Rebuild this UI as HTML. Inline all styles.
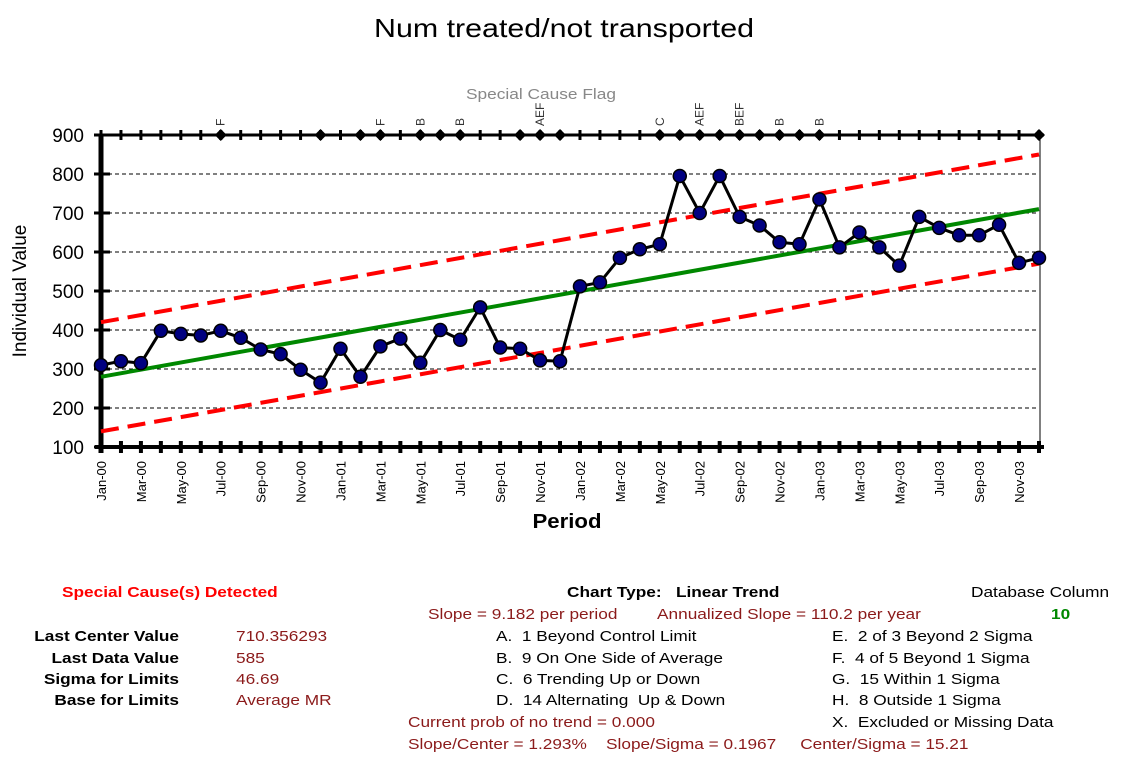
<!DOCTYPE html>
<html><head><meta charset="utf-8"><style>
body{margin:0;background:#fff;width:1132px;height:771px;overflow:hidden;font-family:"Liberation Sans",sans-serif}
.t{position:absolute;font-size:15px;white-space:nowrap;transform:scaleX(1.15);transform-origin:left top}
.rt{transform-origin:right top}
.r{color:#8b1a1a}
</style></head><body>
<svg id="chart" width="1132" height="560" style="position:absolute;left:0;top:0" font-family="Liberation Sans, sans-serif"></svg>
<div class="t" style="left:62px;top:584px;color:#f00;font-weight:bold">Special Cause(s) Detected</div>
<div class="t" style="left:567px;top:584px;font-weight:bold">Chart Type:&nbsp;&nbsp; Linear Trend</div>
<div class="t" style="left:971px;top:584px">Database Column</div>
<div class="t" style="left:1051px;top:606px;color:#080;font-weight:bold">10</div>
<div class="t r" style="left:428px;top:606px">Slope = 9.182 per period</div>
<div class="t r" style="left:657px;top:606px">Annualized Slope = 110.2 per year</div>
<div class="t rt" style="left:33px;top:628px;font-weight:bold;width:146px;text-align:right">Last Center Value</div>
<div class="t rt" style="left:33px;top:650px;font-weight:bold;width:146px;text-align:right">Last Data Value</div>
<div class="t rt" style="left:33px;top:671px;font-weight:bold;width:146px;text-align:right">Sigma for Limits</div>
<div class="t rt" style="left:33px;top:692px;font-weight:bold;width:146px;text-align:right">Base for Limits</div>
<div class="t r" style="left:236px;top:628px">710.356293</div>
<div class="t r" style="left:236px;top:650px">585</div>
<div class="t r" style="left:236px;top:671px">46.69</div>
<div class="t r" style="left:236px;top:692px">Average MR</div>
<div class="t" style="left:496px;top:628px">A.&nbsp; 1 Beyond Control Limit</div>
<div class="t" style="left:496px;top:650px">B.&nbsp; 9 On One Side of Average</div>
<div class="t" style="left:496px;top:671px">C.&nbsp; 6 Trending Up or Down</div>
<div class="t" style="left:496px;top:692px">D.&nbsp; 14 Alternating&nbsp; Up &amp; Down</div>
<div class="t" style="left:832px;top:628px">E.&nbsp; 2 of 3 Beyond 2 Sigma</div>
<div class="t" style="left:832px;top:650px">F.&nbsp; 4 of 5 Beyond 1 Sigma</div>
<div class="t" style="left:832px;top:671px">G.&nbsp; 15 Within 1 Sigma</div>
<div class="t" style="left:832px;top:692px">H.&nbsp; 8 Outside 1 Sigma</div>
<div class="t" style="left:832px;top:714px">X.&nbsp; Excluded or Missing Data</div>
<div class="t r" style="left:408px;top:714px">Current prob of no trend = 0.000</div>
<div class="t r" style="left:408px;top:736px">Slope/Center = 1.293%&nbsp;&nbsp;&nbsp; Slope/Sigma = 0.1967&nbsp;&nbsp;&nbsp;&nbsp; Center/Sigma = 15.21</div>
<script>
const months=["Jan","Feb","Mar","Apr","May","Jun","Jul","Aug","Sep","Oct","Nov","Dec"];
const values=[310,320,315,398,390,386,398,380,350,338,298,265,352,280,358,378,316,400,375,458,355,352,322,320,512,522,585,607,620,795,700,795,690,668,625,620,735,612,650,612,565,690,662,643,643,670,572,585];
const centerStart=280, centerEnd=710, sigma3=140;
const yTicks=[100,200,300,400,500,600,700,800,900];
const flagIdx=[6,11,13,14,16,17,18,21,22,23,28,29,30,31,32,33,34,35,36,47];
const flagLabels={6:"F",14:"F",16:"B",18:"B",22:"AEF",28:"C",30:"AEF",32:"BEF",34:"B",36:"B"};
const svg=document.getElementById('chart');const NS='http://www.w3.org/2000/svg';
const X0=101,X1=1039,Y0=447,Y1=135;
const n=values.length;
const x=i=>X0+i*(X1-X0)/(n-1);
const y=v=>Y0-(v-100)*(Y0-Y1)/800;
function el(t,a,txt){const e=document.createElementNS(NS,t);for(const k in a)e.setAttribute(k,a[k]);if(txt!=null)e.textContent=txt;svg.appendChild(e);return e;}
let e;
e=el('text',{x:564,y:37,'font-size':26,'text-anchor':'middle',textLength:380,lengthAdjust:'spacingAndGlyphs'},'Num treated/not transported');

e=el('text',{x:541,y:99,'font-size':15,fill:'#888','text-anchor':'middle',textLength:150,lengthAdjust:'spacingAndGlyphs'},'Special Cause Flag');

yTicks.forEach(v=>{
 if(v>100&&v<900){e=el('line',{x1:X0,x2:X1,y1:y(v),y2:y(v),stroke:'#000','stroke-dasharray':'4,3','stroke-width':1});}
 e=el('text',{x:84,y:y(v)+7,'font-size':19,'text-anchor':'end'},v);
 
 e=el('line',{x1:94,x2:110,y1:y(v),y2:y(v),stroke:'#000','stroke-width':3});
 
});
e=el('line',{x1:X1+1,x2:X1+1,y1:Y1,y2:Y0,stroke:'#000','stroke-width':1});
e=el('line',{x1:X0,x2:X0,y1:Y1,y2:Y0+6,stroke:'#000','stroke-width':5});
e=el('line',{x1:X0-6,x2:X1+5,y1:Y0,y2:Y0,stroke:'#000','stroke-width':4});
e=el('line',{x1:X0-6,x2:X1+5,y1:Y1,y2:Y1,stroke:'#000','stroke-width':3});
for(let i=0;i<n;i++){
 e=el('line',{x1:x(i),x2:x(i),y1:Y0-6,y2:Y0+6,stroke:'#000','stroke-width':4});
 e=el('line',{x1:x(i),x2:x(i),y1:Y1-5,y2:Y1+5,stroke:'#000','stroke-width':3});
 if(i%2==0){const lab=months[i%12]+'-'+String(Math.floor(i/12)).padStart(2,'0');
  e=el('text',{x:0,y:0,'font-size':13,'text-anchor':'end',transform:`translate(${x(i)+5},${Y0+14}) rotate(-90)`},lab);
  }
}
flagIdx.forEach(i=>{
 const cx=x(i);
 e=el('polygon',{points:`${cx-6},${Y1} ${cx},${Y1-6} ${cx+6},${Y1} ${cx},${Y1+6}`,fill:'#000'});
 
 if(flagLabels[i]){e=el('text',{x:0,y:0,'font-size':12,fill:'#333',transform:`translate(${cx+4},${Y1-9}) rotate(-90)`},flagLabels[i]);
  }
});
e=el('line',{x1:x(0),x2:x(n-1),y1:y(centerStart+sigma3),y2:y(centerEnd+sigma3),stroke:'#f00','stroke-width':4,'stroke-dasharray':'18,9'});
e=el('line',{x1:x(0),x2:x(n-1),y1:y(centerStart-sigma3),y2:y(centerEnd-sigma3),stroke:'#f00','stroke-width':4,'stroke-dasharray':'18,9'});
e=el('line',{x1:x(0),x2:x(n-1),y1:y(centerStart),y2:y(centerEnd),stroke:'#080','stroke-width':4});
e=el('polyline',{points:values.map((v,i)=>x(i)+','+y(v)).join(' '),fill:'none',stroke:'#000','stroke-width':3});
values.forEach((v,i)=>{e=el('circle',{cx:x(i),cy:y(v),r:6.5,fill:'#000080',stroke:'#000','stroke-width':1.5});});
e=el('text',{x:0,y:0,'font-size':19,'text-anchor':'middle',transform:'translate(26,291) rotate(-90)'},'Individual Value');
e=el('text',{x:567,y:528,'font-size':20,'font-weight':'bold','text-anchor':'middle',textLength:69,lengthAdjust:'spacingAndGlyphs'},'Period');
</script>
</body></html>
